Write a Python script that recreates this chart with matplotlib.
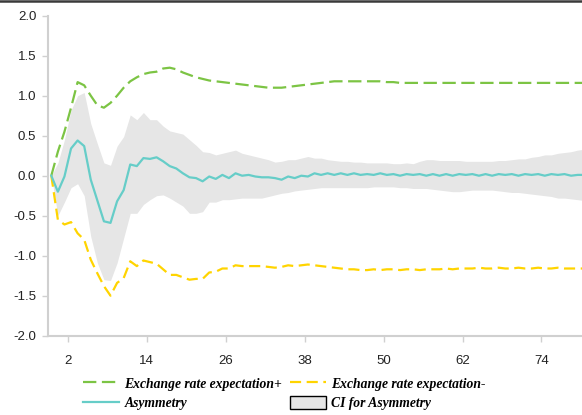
import matplotlib
matplotlib.use('Agg')
import matplotlib.pyplot as plt
from matplotlib.lines import Line2D
from matplotlib.patches import Patch
import numpy as np

# impulse responses, one value per period
exp_plus = [0.00, 0.30, 0.55, 0.85, 1.17, 1.13, 1.00, 0.88, 0.85, 0.91,
            1.00, 1.10, 1.18, 1.23, 1.27, 1.29, 1.30, 1.34, 1.35, 1.33,
            1.29, 1.26, 1.23, 1.21, 1.19, 1.18, 1.17, 1.16, 1.15, 1.14,
            1.13, 1.12, 1.11, 1.10, 1.10, 1.10, 1.11, 1.12, 1.13, 1.14,
            1.15, 1.16, 1.17, 1.18, 1.18, 1.18, 1.18, 1.18, 1.18, 1.18,
            1.18, 1.17, 1.17, 1.16, 1.16, 1.16, 1.16, 1.16, 1.16, 1.16,
            1.16, 1.16, 1.16, 1.16, 1.16, 1.16, 1.16, 1.16, 1.16, 1.16,
            1.16, 1.16, 1.16, 1.16, 1.16, 1.16, 1.16, 1.16, 1.16, 1.16,
            1.16, 1.16]

exp_minus = [0.00, -0.55, -0.61, -0.58, -0.72, -0.80, -1.05, -1.22, -1.38, -1.50,
             -1.34, -1.28, -1.07, -1.13, -1.06, -1.08, -1.10, -1.17, -1.24, -1.24,
             -1.27, -1.30, -1.29, -1.29, -1.21, -1.20, -1.16, -1.16, -1.12, -1.13,
             -1.13, -1.13, -1.13, -1.14, -1.15, -1.14, -1.12, -1.13, -1.12, -1.11,
             -1.12, -1.13, -1.14, -1.15, -1.16, -1.17, -1.17, -1.18, -1.18, -1.17,
             -1.18, -1.17, -1.17, -1.18, -1.17, -1.17, -1.18, -1.17, -1.17, -1.17,
             -1.16, -1.17, -1.16, -1.16, -1.16, -1.15, -1.16, -1.16, -1.15, -1.16,
             -1.16, -1.15, -1.16, -1.16, -1.15, -1.16, -1.16, -1.15, -1.16, -1.16,
             -1.16, -1.16]

asym = [0.00, -0.20, -0.01, 0.34, 0.44, 0.37, -0.05, -0.31, -0.57, -0.59,
        -0.32, -0.18, 0.14, 0.12, 0.22, 0.21, 0.23, 0.18, 0.12, 0.09,
        0.03, -0.02, -0.03, -0.07, -0.01, -0.04, 0.01, -0.03, 0.03, 0.00,
        0.01, -0.01, -0.02, -0.02, -0.03, -0.05, -0.01, -0.03, 0.00, -0.01,
        0.03, 0.01, 0.03, 0.01, 0.03, 0.01, 0.03, 0.01, 0.02, 0.01,
        0.03, 0.01, 0.02, 0.00, 0.02, 0.01, 0.02, 0.00, 0.02, 0.00,
        0.02, 0.00, 0.02, 0.01, 0.02, 0.00, 0.02, 0.00, 0.02, 0.01,
        0.02, 0.00, 0.02, 0.01, 0.02, 0.00, 0.02, 0.01, 0.02, 0.00,
        0.01, 0.01]

ci_upper = [0.00, 0.16, 0.45, 0.82, 1.00, 1.04, 0.65, 0.40, 0.16, 0.13,
            0.37, 0.49, 0.76, 0.70, 0.79, 0.70, 0.70, 0.62, 0.56, 0.54,
            0.52, 0.45, 0.38, 0.30, 0.29, 0.26, 0.28, 0.30, 0.32, 0.28,
            0.26, 0.24, 0.22, 0.20, 0.17, 0.18, 0.20, 0.20, 0.22, 0.24,
            0.22, 0.22, 0.20, 0.19, 0.18, 0.18, 0.17, 0.17, 0.16, 0.16,
            0.16, 0.16, 0.15, 0.15, 0.16, 0.15, 0.18, 0.20, 0.20, 0.19,
            0.19, 0.19, 0.19, 0.18, 0.18, 0.18, 0.18, 0.18, 0.19, 0.19,
            0.20, 0.21, 0.21, 0.23, 0.24, 0.26, 0.26, 0.28, 0.29, 0.30,
            0.32, 0.33]

ci_lower = [0.00, -0.50, -0.33, -0.15, -0.10, -0.25, -0.76, -1.09, -1.30, -1.31,
            -1.09, -0.78, -0.47, -0.47, -0.36, -0.30, -0.25, -0.24, -0.28, -0.33,
            -0.38, -0.47, -0.47, -0.45, -0.33, -0.33, -0.30, -0.30, -0.29, -0.28,
            -0.28, -0.28, -0.28, -0.26, -0.24, -0.22, -0.21, -0.19, -0.18, -0.17,
            -0.16, -0.15, -0.15, -0.15, -0.15, -0.15, -0.15, -0.15, -0.15, -0.14,
            -0.14, -0.14, -0.14, -0.15, -0.15, -0.16, -0.16, -0.16, -0.17, -0.18,
            -0.19, -0.20, -0.20, -0.19, -0.18, -0.18, -0.18, -0.18, -0.19, -0.20,
            -0.21, -0.21, -0.22, -0.23, -0.24, -0.25, -0.26, -0.28, -0.28, -0.29,
            -0.30, -0.31]

tick_labels = ["2", "14", "26", "38", "50", "62", "74"]

# points sit half a period left of the labelled ticks
periods = np.arange(len(asym)) - 0.5

green = "#7cc444"
yellow = "#ffd400"
teal = "#66cdc8"
band = "#e6e6e6"
axis_grey = "#d0d0d0"

plt.rcParams['font.family'] = ['Liberation Sans', 'DejaVu Sans']

fig = plt.figure(figsize=(5.82, 4.15), dpi=100)
ax = fig.add_axes([48 / 582, 1 - 335.7 / 415, 534 / 582, 320 / 415])

ax.fill_between(periods, ci_lower, ci_upper, color=band, linewidth=0, zorder=1)
ax.plot(periods, exp_plus, color=green, lw=1.6, dashes=(6, 2.5), zorder=3)
ax.plot(periods, exp_minus, color=yellow, lw=1.6, dashes=(5, 2.5), zorder=3)
ax.plot(periods, asym, color=teal, lw=1.6, zorder=4)

ax.set_xlim(-1, 80.16)
ax.set_ylim(-2.0, 2.0)
ax.set_yticks(np.arange(-2.0, 2.01, 0.5))
ax.set_yticklabels([f"{v:.1f}" for v in np.arange(-2.0, 2.01, 0.5)])
ax.set_xticks([int(t) for t in tick_labels])
ax.set_xticklabels(tick_labels)

for side in ["top", "right"]:
    ax.spines[side].set_visible(False)
for side in ["left", "bottom"]:
    ax.spines[side].set_color(axis_grey)
    ax.spines[side].set_linewidth(1.5)
ax.tick_params(axis="y", direction="out", length=4.5, width=1, color=axis_grey,
               pad=4, labelsize=9.5, labelcolor="#222222")
ax.tick_params(axis="x", direction="out", length=4.5, width=1, color=axis_grey,
               pad=9.5, labelsize=9.5, labelcolor="#222222")

# dark rule along the very top edge
fig.add_artist(Line2D([0, 1], [0.997, 0.997], transform=fig.transFigure,
                      color="#3a3a3a", lw=1.8))

handles = [
    Line2D([], [], color=green, lw=1.6, dashes=(6, 2.5)),
    Line2D([], [], color=yellow, lw=1.6, dashes=(5, 2.5)),
    Line2D([], [], color=teal, lw=1.6),
    Patch(facecolor=band, edgecolor="black", linewidth=1),
]
labels = ["Exchange rate expectation+", "Exchange rate expectation-",
          "Asymmetry", "CI for Asymmetry"]
# matplotlib fills legend columns top-down, so reorder for row-wise reading
order = [0, 2, 1, 3]
leg = fig.legend([handles[i] for i in order], [labels[i] for i in order],
                 ncol=2, loc="upper left", bbox_to_anchor=(83 / 582, 1 - 377 / 415),
                 frameon=False, borderpad=0, borderaxespad=0,
                 handlelength=2.65, handleheight=1.0, handletextpad=0.4,
                 columnspacing=0.55, labelspacing=0.42,
                 prop={"family": "Liberation Serif", "style": "italic",
                       "weight": "bold", "size": 9.8})

fig.savefig("out.png", dpi=100)
